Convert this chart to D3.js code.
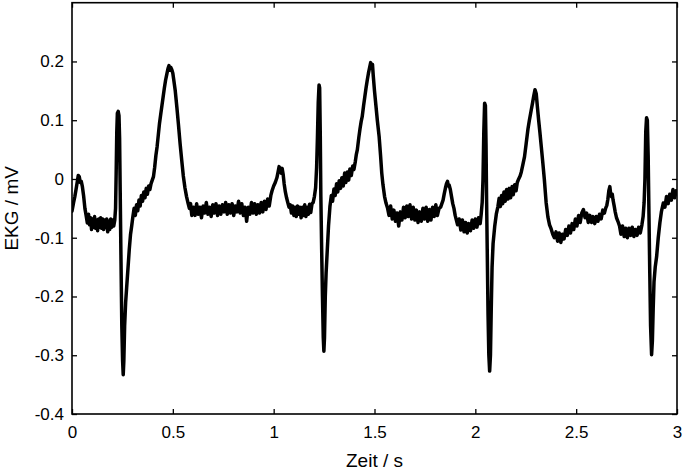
<!DOCTYPE html>
<html><head><meta charset="utf-8">
<script src="https://cdn.jsdelivr.net/npm/d3@7"></script>
<style>body{margin:0;background:#fff}</style></head>
<body><svg id="c" width="685" height="474"></svg>
<script>
const xTicks=[0,0.5,1,1.5,2,2.5,3];
const yTicks=[-0.4,-0.3,-0.2,-0.1,0,0.1,0.2];
const xLabel="Zeit / s", yLabel="EKG / mV";

// [time in s, EKG in mV], one array per heart cycle
const cycle1=[[0.000,-0.055],[0.008,-0.04],[0.014,-0.03],[0.020,-0.018],[0.026,-0.005],[0.031,0.006],[0.036,0.004],[0.041,-0.006],[0.046,-0.004],[0.051,-0.012],[0.058,-0.03],[0.064,-0.05],[0.07,-0.062],[0.076,-0.075],[0.082,-0.06],[0.087,-0.078],[0.092,-0.066],[0.097,-0.086],[0.102,-0.068],[0.107,-0.082],[0.112,-0.064],[0.117,-0.084],[0.122,-0.07],[0.127,-0.088],[0.132,-0.068],[0.137,-0.082],[0.142,-0.066],[0.147,-0.084],[0.152,-0.068],[0.157,-0.086],[0.162,-0.07],[0.167,-0.082],[0.172,-0.068],[0.177,-0.09],[0.182,-0.072],[0.187,-0.086],[0.192,-0.068],[0.197,-0.082],[0.202,-0.07],[0.207,-0.08],[0.212,-0.07],[0.216,-0.05],[0.219,0.01],[0.222,0.08],[0.225,0.112],[0.229,0.115],[0.233,0.108],[0.236,0.07],[0.239,-0.02],[0.243,-0.14],[0.247,-0.25],[0.251,-0.31],[0.254,-0.333],[0.257,-0.31],[0.261,-0.25],[0.266,-0.21],[0.271,-0.185],[0.278,-0.15],[0.284,-0.12],[0.29,-0.095],[0.296,-0.08],[0.302,-0.064],[0.308,-0.05],[0.314,-0.062],[0.32,-0.044],[0.326,-0.054],[0.332,-0.036],[0.338,-0.046],[0.344,-0.028],[0.35,-0.038],[0.356,-0.022],[0.362,-0.032],[0.368,-0.016],[0.374,-0.026],[0.38,-0.012],[0.386,-0.018],[0.392,-0.008],[0.398,-0.002],[0.404,0.004],[0.41,0.02],[0.416,0.04],[0.422,0.055],[0.428,0.075],[0.434,0.095],[0.44,0.11],[0.446,0.125],[0.452,0.14],[0.458,0.155],[0.464,0.168],[0.47,0.178],[0.476,0.188],[0.481,0.193],[0.486,0.185],[0.49,0.19],[0.495,0.186],[0.5,0.18],[0.504,0.17],[0.512,0.15],[0.52,0.122],[0.528,0.092],[0.536,0.06],[0.544,0.032],[0.552,0.005],[0.56,-0.015],[0.568,-0.03],[0.576,-0.042],[0.582,-0.05],[0.588,-0.042],[0.594,-0.062],[0.602,-0.048],[0.61,-0.062],[0.618,-0.042],[0.626,-0.06],[0.634,-0.048],[0.642,-0.066],[0.65,-0.046],[0.658,-0.058],[0.666,-0.04],[0.674,-0.06],[0.682,-0.048],[0.69,-0.064],[0.698,-0.044],[0.706,-0.058],[0.714,-0.042],[0.722,-0.062],[0.73,-0.046],[0.738,-0.06],[0.746,-0.044],[0.754,-0.056],[0.762,-0.04],[0.77,-0.06],[0.778,-0.044],[0.786,-0.058],[0.794,-0.042],[0.802,-0.062],[0.81,-0.046],[0.818,-0.056],[0.826,-0.038],[0.834,-0.058],[0.842,-0.042],[0.85,-0.062],[0.858,-0.048],[0.866,-0.072],[0.874,-0.048],[0.882,-0.06],[0.89,-0.04],[0.898,-0.058],[0.906,-0.042],[0.914,-0.06],[0.922,-0.044],[0.93,-0.058],[0.938,-0.04],[0.946,-0.056],[0.954,-0.038],[0.962,-0.052],[0.97,-0.034],[0.978,-0.046],[0.986,-0.028]];
const cycle2=[[0.992,-0.02],[1.0,-0.012],[1.008,-0.006],[1.016,0.002],[1.022,0.012],[1.027,0.021],[1.032,0.016],[1.037,0.01],[1.042,0.018],[1.047,0.008],[1.052,-0.008],[1.058,-0.022],[1.064,-0.032],[1.07,-0.04],[1.076,-0.048],[1.082,-0.044],[1.088,-0.058],[1.094,-0.046],[1.1,-0.062],[1.106,-0.048],[1.112,-0.064],[1.118,-0.046],[1.124,-0.06],[1.13,-0.048],[1.136,-0.066],[1.142,-0.048],[1.148,-0.062],[1.154,-0.044],[1.16,-0.064],[1.166,-0.048],[1.172,-0.06],[1.178,-0.043],[1.184,-0.057],[1.19,-0.042],[1.196,-0.04],[1.202,-0.03],[1.208,-0.015],[1.213,0.02],[1.217,0.07],[1.221,0.13],[1.225,0.16],[1.228,0.155],[1.231,0.08],[1.234,-0.03],[1.238,-0.12],[1.242,-0.2],[1.246,-0.27],[1.249,-0.293],[1.252,-0.27],[1.256,-0.2],[1.26,-0.16],[1.266,-0.12],[1.272,-0.08],[1.279,-0.047],[1.286,-0.028],[1.292,-0.038],[1.299,-0.017],[1.305,-0.028],[1.312,-0.008],[1.318,-0.022],[1.325,-0.003],[1.332,-0.016],[1.338,0.002],[1.345,-0.012],[1.352,0.01],[1.358,-0.006],[1.365,0.012],[1.372,-0.002],[1.378,0.017],[1.385,0.006],[1.392,0.022],[1.398,0.016],[1.405,0.03],[1.41,0.042],[1.415,0.05],[1.422,0.07],[1.428,0.085],[1.434,0.098],[1.439,0.106],[1.446,0.125],[1.452,0.14],[1.458,0.155],[1.464,0.168],[1.47,0.18],[1.476,0.19],[1.481,0.198],[1.486,0.19],[1.49,0.195],[1.494,0.175],[1.5,0.15],[1.507,0.125],[1.514,0.1],[1.523,0.072],[1.53,0.04],[1.536,0.01],[1.542,-0.01],[1.55,-0.03],[1.557,-0.041],[1.565,-0.05],[1.572,-0.062],[1.58,-0.046],[1.588,-0.068],[1.596,-0.053],[1.604,-0.072],[1.612,-0.058],[1.62,-0.08],[1.628,-0.056],[1.636,-0.07],[1.644,-0.048],[1.652,-0.066],[1.66,-0.046],[1.668,-0.064],[1.676,-0.044],[1.684,-0.068],[1.692,-0.048],[1.70,-0.07],[1.708,-0.053],[1.716,-0.074],[1.724,-0.056],[1.732,-0.072],[1.74,-0.05],[1.748,-0.068],[1.756,-0.048],[1.764,-0.072],[1.772,-0.052],[1.78,-0.07],[1.788,-0.048],[1.796,-0.064],[1.804,-0.044],[1.812,-0.062],[1.82,-0.05],[1.828,-0.048]];
const cycle3=[[1.834,-0.042],[1.84,-0.036],[1.846,-0.025],[1.852,-0.015],[1.857,-0.008],[1.862,-0.004],[1.866,-0.012],[1.87,-0.01],[1.876,-0.018],[1.882,-0.03],[1.888,-0.042],[1.894,-0.05],[1.9,-0.062],[1.906,-0.07],[1.912,-0.078],[1.92,-0.068],[1.928,-0.087],[1.936,-0.07],[1.944,-0.09],[1.952,-0.074],[1.96,-0.092],[1.968,-0.076],[1.976,-0.088],[1.984,-0.07],[1.992,-0.084],[2.0,-0.068],[2.008,-0.082],[2.016,-0.066],[2.024,-0.076],[2.029,-0.06],[2.034,-0.04],[2.038,0.0],[2.042,0.08],[2.046,0.129],[2.05,0.125],[2.053,0.06],[2.056,-0.04],[2.059,-0.12],[2.063,-0.23],[2.067,-0.3],[2.071,-0.327],[2.075,-0.3],[2.079,-0.22],[2.083,-0.15],[2.088,-0.11],[2.096,-0.081],[2.104,-0.06],[2.112,-0.047],[2.118,-0.033],[2.124,-0.047],[2.13,-0.028],[2.136,-0.042],[2.142,-0.022],[2.148,-0.038],[2.155,-0.018],[2.162,-0.034],[2.168,-0.016],[2.175,-0.032],[2.182,-0.013],[2.188,-0.027],[2.195,-0.01],[2.202,-0.02],[2.208,-0.006],[2.215,0.0],[2.222,0.005],[2.228,0.012],[2.236,0.025],[2.244,0.038],[2.252,0.06],[2.261,0.085],[2.268,0.1],[2.277,0.117],[2.284,0.13],[2.29,0.142],[2.296,0.152],[2.302,0.145],[2.308,0.122],[2.314,0.1],[2.32,0.08],[2.327,0.055],[2.334,0.03],[2.342,0.0],[2.351,-0.04],[2.36,-0.065],[2.368,-0.078],[2.376,-0.085],[2.384,-0.094],[2.392,-0.1],[2.4,-0.09],[2.408,-0.106],[2.416,-0.092],[2.424,-0.108],[2.432,-0.094],[2.44,-0.102],[2.448,-0.086],[2.456,-0.096],[2.464,-0.08],[2.472,-0.092],[2.48,-0.076],[2.488,-0.086],[2.496,-0.068],[2.504,-0.08],[2.512,-0.062],[2.52,-0.074],[2.528,-0.058],[2.536,-0.052],[2.544,-0.066],[2.552,-0.058],[2.56,-0.074],[2.568,-0.062],[2.576,-0.074],[2.584,-0.064],[2.592,-0.076],[2.6,-0.064],[2.608,-0.072],[2.616,-0.06],[2.624,-0.068],[2.632,-0.053],[2.64,-0.058]];
const cycle4=[[2.646,-0.05],[2.652,-0.045],[2.657,-0.035],[2.662,-0.02],[2.667,-0.013],[2.671,-0.025],[2.675,-0.03],[2.679,-0.026],[2.683,-0.036],[2.688,-0.045],[2.693,-0.055],[2.7,-0.066],[2.707,-0.072],[2.715,-0.08],[2.722,-0.094],[2.73,-0.08],[2.738,-0.098],[2.746,-0.084],[2.754,-0.1],[2.762,-0.084],[2.77,-0.096],[2.778,-0.082],[2.786,-0.098],[2.794,-0.086],[2.802,-0.096],[2.81,-0.082],[2.818,-0.092],[2.826,-0.078],[2.832,-0.064],[2.837,-0.04],[2.841,0.0],[2.845,0.08],[2.849,0.104],[2.853,0.1],[2.857,0.04],[2.861,-0.06],[2.865,-0.16],[2.869,-0.25],[2.874,-0.299],[2.878,-0.275],[2.882,-0.22],[2.886,-0.175],[2.892,-0.15],[2.899,-0.132],[2.907,-0.1],[2.915,-0.075],[2.923,-0.055],[2.932,-0.041],[2.94,-0.048],[2.948,-0.03],[2.956,-0.042],[2.964,-0.026],[2.972,-0.036],[2.98,-0.018],[2.988,-0.032],[2.996,-0.02],[3.0,-0.025]];

const data=[...cycle1,...cycle2,...cycle3,...cycle4];

const svg=d3.select("#c");
const L=72,R=677,T=2.7,B=414;
const x=d3.scaleLinear().domain([0,3]).range([L,R]);
const y=d3.scaleLinear().domain([-0.4,0.3]).range([B,T]);
const font="'Liberation Sans', Arial, Helvetica, sans-serif";
const fmt=d=>String(d);

svg.append("defs").append("clipPath").attr("id","clip")
  .append("rect").attr("x",L).attr("y",T).attr("width",R-L).attr("height",B-T);

svg.append("path").datum(data)
  .attr("clip-path","url(#clip)")
  .attr("fill","none").attr("stroke","#000").attr("stroke-width",3.5)
  .attr("stroke-linejoin","round").attr("stroke-linecap","round")
  .attr("d",d3.line().x(d=>x(d[0])).y(d=>y(d[1])));

function styleAxis(g){
  g.select(".domain").remove();
  g.selectAll("line").attr("stroke","#000").attr("stroke-width",1.3);
  g.selectAll("text").attr("fill","#000").style("font-family",font).style("font-size","17px");
}
svg.append("g").attr("transform",`translate(0,${B})`)
  .call(d3.axisBottom(x).tickValues(xTicks).tickFormat(fmt).tickSizeInner(-5).tickSizeOuter(0).tickPadding(12)).call(styleAxis);
svg.append("g").attr("transform",`translate(0,${T})`)
  .call(d3.axisTop(x).tickValues(xTicks).tickFormat("").tickSizeInner(-5).tickSizeOuter(0)).call(styleAxis);
svg.append("g").attr("transform",`translate(${L},0)`)
  .call(d3.axisLeft(y).tickValues(yTicks).tickFormat(fmt).tickSizeInner(-5).tickSizeOuter(0).tickPadding(8)).call(styleAxis);
svg.append("g").attr("transform",`translate(${R},0)`)
  .call(d3.axisRight(y).tickValues(yTicks).tickFormat("").tickSizeInner(-5).tickSizeOuter(0)).call(styleAxis);

svg.append("rect").attr("x",L).attr("y",T).attr("width",R-L).attr("height",B-T)
  .attr("fill","none").attr("stroke","#000").attr("stroke-width",1.6);

svg.append("text").attr("x",(L+R)/2).attr("y",467).attr("text-anchor","middle")
  .style("font-family",font).style("font-size","19px").text(xLabel);
svg.append("text").attr("transform",`translate(18,${(T+B)/2}) rotate(-90)`).attr("text-anchor","middle")
  .style("font-family",font).style("font-size","19px").text(yLabel);
</script></body></html>
